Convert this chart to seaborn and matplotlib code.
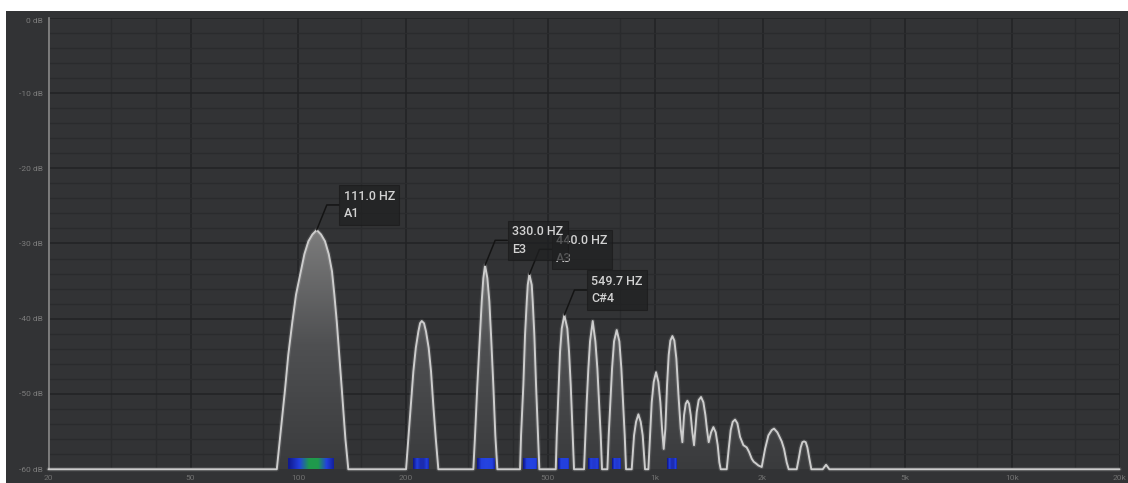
import numpy as np
import pandas as pd
import matplotlib.pyplot as plt
import matplotlib.patches as mpatches
import matplotlib.transforms as mtransforms
from matplotlib.colors import LinearSegmentedColormap
import seaborn as sns

# spectrum envelope (Hz, dB)
spectrum_hz = [
    20,
    87.2, 89.0, 92.0, 93.9, 96.4, 98.7, 101.8, 104.2, 106.9, 109.7, 112.8,
    116.0, 119.0, 121.9, 124.5, 126.4, 128.4, 130.5, 132.6, 135.7, 138.3,
    200.7, 203.7, 206.9, 210.4, 213.7, 217.3, 219.7, 222.1, 225.4, 228.3,
    232.3, 235.8, 239.3, 243.1, 247.2,
    309.8, 313.2, 317.9, 323.5, 327.0, 330.4, 334.1, 339.1, 343.5, 347.2, 352.4, 357.0, 361.7,
    418.7, 421.4, 427.7, 432.4, 437.2, 440.0, 444.6, 451.5, 454.4, 459.1, 464.2, 470.2, 474.2,
    527.1, 530.5, 537.4, 541.9, 547.9, 557.1, 568.0, 574.3, 580.6, 588.1, 593.1,
    632.6, 638.1, 643.6, 650.5, 657.6, 669.0, 680.6, 689.4, 696.9, 704.4, 710.5,
    735.4, 741.7, 749.7, 757.9, 767.7, 781.0, 794.5, 804.8, 813.5, 822.4, 829.5,
    860.3, 873.4, 884.7, 898.2, 911.8, 923.6, 937.6,
    958.0, 968.3, 978.8, 991.5, 1006.5, 1021.8, 1035.0, 1046.2, 1057.5,
    1069.0, 1080.6, 1092.2, 1104.0, 1118.5, 1132.8, 1147.5, 1164.9, 1180.0, 1192.8,
    1205.8, 1218.8, 1232.0, 1245.3, 1258.8, 1272.4, 1286.1,
    1308.4, 1325.4, 1345.5, 1365.9, 1383.7, 1398.6, 1413.7,
    1435.2, 1456.9, 1479.0, 1498.2, 1514.4, 1527.5,
    1587.7, 1608.4, 1629.2, 1650.4, 1675.5, 1700.9, 1730.3, 1767.9, 1806.3, 1833.7,
    1865.7, 1889.8, 1914.4, 1947.6, 1990.0,
    2033.2, 2077.4, 2122.5, 2154.6, 2201.4, 2263.9, 2298.1, 2338.0, 2368.4,
    2493.7, 2526.1, 2558.9, 2586.6, 2614.6, 2642.8, 2671.4, 2706.0, 2741.1,
    2949.1, 2981.1, 3013.2, 3045.8, 3078.7,
    20000,
]
spectrum_db = [
    -60,
    -60, -55.9, -49.3, -44.8, -40.4, -36.8, -33.7, -31.4, -29.7, -28.8, -28.2,
    -28.8, -29.7, -31.4, -33.7, -36.8, -40.4, -44.8, -49.3, -55.9, -60,
    -60, -55.9, -51.5, -47.0, -43.9, -41.7, -40.6, -40.3, -40.6, -41.7,
    -43.9, -47.0, -51.5, -55.9, -60,
    -60, -55.5, -48.8, -42.1, -37.7, -34.6, -32.9, -34.6, -37.7, -42.1, -48.8, -55.5, -60,
    -60, -55.5, -48.8, -42.1, -37.7, -35.5, -34.1, -35.5, -37.7, -42.1, -48.8, -55.5, -60,
    -60, -55.5, -48.8, -44.4, -41.3, -39.5, -41.3, -44.4, -48.8, -55.5, -60,
    -60, -55.5, -51.1, -46.6, -43.0, -40.3, -43.0, -46.6, -51.1, -55.5, -60,
    -60, -55.5, -51.1, -46.6, -43.0, -41.5, -43.0, -46.6, -51.1, -55.5, -60,
    -60, -55.5, -53.7, -52.7, -53.7, -55.5, -60,
    -60, -55.5, -51.1, -48.4, -47.1, -48.4, -51.1, -54.6, -57.3,
    -54.6, -48.8, -44.8, -42.9, -42.3, -42.9, -45.3, -50.6, -54.6, -56.4,
    -52.8, -51.3, -50.9, -51.3, -52.8, -55.1, -56.8,
    -52.4, -50.8, -50.4, -51.1, -52.8, -54.8, -56.4,
    -55.1, -54.4, -55.1, -56.8, -59.1, -60,
    -60, -57.3, -54.8, -53.7, -53.4, -53.9, -55.7, -56.8, -57.1, -57.7,
    -58.6, -59.0, -59.2, -59.5, -59.7,
    -57.3, -55.5, -54.8, -54.6, -55.1, -56.3, -57.3, -59.1, -60,
    -60, -58.6, -57.1, -56.4, -56.3, -56.4, -57.1, -58.6, -60,
    -60, -59.7, -59.4, -59.7, -60,
    -60,
]

# note detector bars on the floor
note_lo_hz = [93.9, 210.4, 316.6, 427.7, 536.0, 649.1, 757.9, 1080.6]
note_hi_hz = [127.0, 234.3, 356.3, 471.1, 578.0, 696.9, 803.2, 1152.7]

# labelled peaks
peak_hz = [112.8, 334.1, 444.6, 557.1]
peak_db = [-28.2, -32.9, -34.1, -39.5]
peak_freq = ['111.0 HZ', '330.0 HZ', '440.0 HZ', '549.7 HZ']
peak_note = ['A1', 'E3', 'A3', 'C#4']

x_ticks = [20, 50, 100, 200, 500, 1000, 2000, 5000, 10000, 20000]
x_tick_labels = ['20', '50', '100', '200', '500', '1k', '2k', '5k', '10k', '20k']
x_minor = [30, 40, 80, 150, 300, 400, 800, 1500, 3000, 4000, 8000, 15000]
y_ticks = [0, -10, -20, -30, -40, -50, -60]
y_tick_labels = ['0 dB', '-10 dB', '-20 dB', '-30 dB', '-40 dB', '-50 dB', '-60 dB']
y_minor = [-2, -4, -6, -8, -12, -14, -16, -18, -22, -24, -26, -28, -32, -34, -36, -38,
           -42, -44, -46, -48, -52, -54, -56, -58]

PANEL = '#323335'
GRID_MAJOR = '#222325'
GRID_MINOR = '#2a2b2d'

sns.set_theme(style='dark', rc={'axes.facecolor': PANEL})
plt.rcParams['font.family'] = ['Roboto', 'DejaVu Sans']

fig = plt.figure(figsize=(11.28, 4.83), dpi=100)
fig.patch.set_facecolor('white')
fig.add_artist(mpatches.Rectangle((6 / 1128, 0), 1, 1 - 11 / 483, transform=fig.transFigure,
                                  facecolor=PANEL, edgecolor='none', zorder=0))
ax = fig.add_axes([48.5 / 1128, 13.75 / 483, 1071 / 1128, 451.5 / 483])
ax.set_facecolor(PANEL)
ax.set_xscale('log')

df = pd.DataFrame({'hz': spectrum_hz, 'db': spectrum_db})

# gradient fill under the spectrum
fill = ax.fill_between(df['hz'], df['db'], -60, facecolor='none', edgecolor='none', zorder=2)
glow = LinearSegmentedColormap.from_list('glow', ['#3a3b3d', '#4f5052', '#808080'])
grad_tf = mtransforms.blended_transform_factory(ax.transAxes, ax.transData)
img = ax.imshow(np.linspace(0, 1, 256).reshape(-1, 1), cmap=glow, origin='lower',
                extent=[0, 1, -60, -27], transform=grad_tf, aspect='auto', zorder=2)
img.set_clip_path(fill.get_paths()[0], ax.transData)

# note bars
bar_tf = mtransforms.blended_transform_factory(ax.transData, ax.transAxes)
bar_centre = ['#1f9a4c', '#1c2cb0', '#2443e0', '#2443e0', '#2340dc', '#2238d0', '#2238d0', '#1d2cb0']
for lo, hi, c in zip(note_lo_hz, note_hi_hz, bar_centre):
    cm = LinearSegmentedColormap.from_list('bar', ['#111a90', '#2340de', c, c, '#2340de', '#111a90'])
    ax.imshow(np.linspace(0, 1, 64).reshape(1, -1), cmap=cm, extent=[lo, hi, 0, 0.026],
              transform=bar_tf, aspect='auto', zorder=3, interpolation='bilinear')

# spectrum outline
ax.plot(df['hz'], df['db'], color='#e0e0e0', lw=3.2, alpha=0.12, zorder=4, clip_on=False)
sns.lineplot(data=df, x='hz', y='db', ax=ax, color='#cdcdcd', linewidth=1.4,
             errorbar=None, zorder=5, clip_on=False)

# peak labels: 330 Hz box sits on top of the 440 Hz one (boxes are see-through)
for z, i in enumerate([0, 2, 3, 1]):
    ax.annotate(f'{peak_freq[i]}\n{peak_note[i]}', xy=(peak_hz[i], peak_db[i]),
                xytext=(27, 25), textcoords='offset pixels', ha='left', va='center',
                fontsize=9, fontweight='medium', color='#d2d2d2', linespacing=1.45, zorder=7 + z,
                bbox=dict(boxstyle='square,pad=0.35', fc='#1f2021', ec='#1a1a1b', lw=0.8, alpha=0.7),
                arrowprops=dict(arrowstyle='-', color='#141414', lw=1.1, shrinkA=0, shrinkB=0,
                                relpos=(0, 0.5), connectionstyle='angle,angleA=0,angleB=68,rad=0'))

ax.set_xlim(20, 20000)
ax.set_ylim(-60, 0)
ax.set_xlabel('')
ax.set_ylabel('')

ax.set_xticks(x_ticks)
ax.set_xticklabels(x_tick_labels)
ax.set_xticks(x_minor, minor=True)
ax.set_xticklabels([], minor=True)
ax.set_yticks(y_ticks)
ax.set_yticklabels(y_tick_labels)
ax.set_yticks(y_minor, minor=True)
ax.tick_params(axis='both', which='both', length=0)
ax.tick_params(axis='x', labelsize=6, labelcolor='#707070', pad=4)
ax.tick_params(axis='y', labelsize=6, labelcolor='#7c7c7c', pad=4)
for lab in ax.get_yticklabels():
    if lab.get_text() == '0 dB':
        lab.set_va('top')

ax.grid(which='major', color=GRID_MAJOR, lw=1.1, zorder=1)
ax.grid(which='minor', color=GRID_MINOR, lw=1.0, zorder=1)
ax.set_axisbelow(True)

for side in ['top', 'right', 'bottom']:
    ax.spines[side].set_visible(False)
ax.spines['left'].set_color('#8a8a8a')
ax.spines['left'].set_linewidth(1.2)

fig.savefig('out.png', dpi=100, facecolor=fig.get_facecolor())
